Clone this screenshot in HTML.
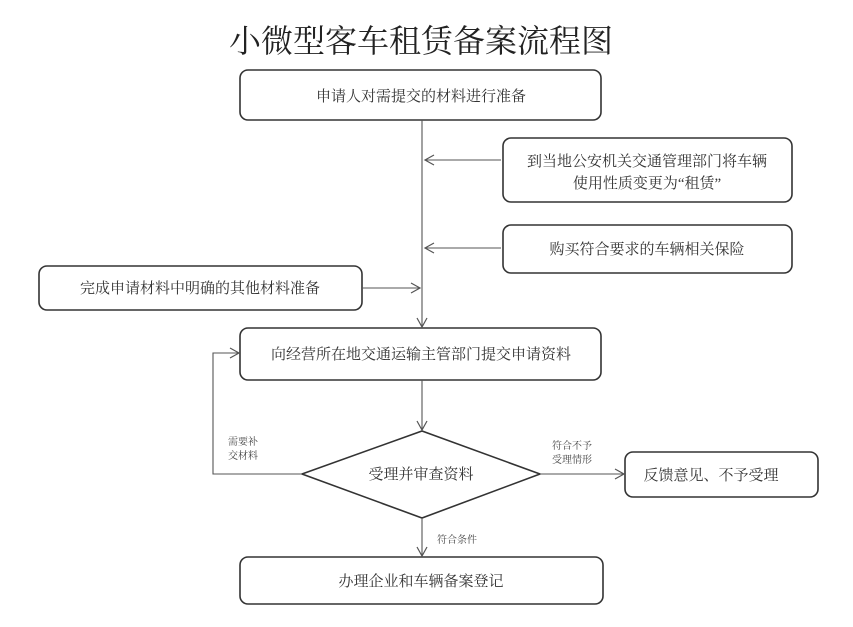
<!DOCTYPE html>
<html><head><meta charset="utf-8"><style>
body{margin:0;background:#fff;}
svg{display:block;font-family:"Liberation Serif","Noto Serif CJK SC",serif;}
</style></head><body>
<svg width="853" height="627" viewBox="0 0 853 627" xmlns="http://www.w3.org/2000/svg">
<defs><marker id="a" markerWidth="12" markerHeight="12" refX="10" refY="6" orient="auto" markerUnits="userSpaceOnUse"><path d="M1,1 L10,6 L1,11" fill="none" stroke="#555" stroke-width="1.2"/></marker></defs>
<text x="421" y="52" font-size="32" text-anchor="middle" fill="#222">小微型客车租赁备案流程图</text>
<g fill="none" stroke="#333" stroke-width="1.6">
<rect x="240" y="70" width="361" height="50" rx="8"/>
<rect x="503" y="138" width="289" height="64" rx="8"/>
<rect x="503" y="225" width="289" height="48" rx="8"/>
<rect x="39" y="266" width="323" height="44" rx="8"/>
<rect x="240" y="328" width="361" height="52" rx="8"/>
<path d="M302,474 L422,431 L540,474 L422,518 Z"/>
<rect x="625" y="452" width="193" height="45" rx="8"/>
<rect x="240" y="557" width="363" height="47" rx="8"/>
</g>
<g fill="none" stroke="#555" stroke-width="1.1">
<line x1="422" y1="120" x2="422" y2="327" marker-end="url(#a)"/>
<line x1="501" y1="160" x2="425" y2="160" marker-end="url(#a)"/>
<line x1="501" y1="248" x2="425" y2="248" marker-end="url(#a)"/>
<line x1="362" y1="288" x2="420" y2="288" marker-end="url(#a)"/>
<line x1="422" y1="380" x2="422" y2="430" marker-end="url(#a)"/>
<polyline points="302,474 213,474 213,353 239,353" marker-end="url(#a)"/>
<line x1="540" y1="474" x2="624" y2="474" marker-end="url(#a)"/>
<line x1="422" y1="518" x2="422" y2="556" marker-end="url(#a)"/>
</g>
<g fill="#333" font-size="15" text-anchor="middle">
<text x="421" y="101">申请人对需提交的材料进行准备</text>
<text x="647" y="166">到当地公安机关交通管理部门将车辆</text>
<text x="647" y="188">使用性质变更为“租赁”</text>
<text x="647" y="254">购买符合要求的车辆相关保险</text>
<text x="200" y="293">完成申请材料中明确的其他材料准备</text>
<text x="421" y="359">向经营所在地交通运输主管部门提交申请资料</text>
<text x="421" y="479">受理并审查资料</text>
<text x="711" y="480">反馈意见、不予受理</text>
<text x="421" y="586">办理企业和车辆备案登记</text>
</g>
<g fill="#444" font-size="10">
<text x="228" y="445">需要补</text>
<text x="228" y="459">交材料</text>
<text x="552" y="449">符合不予</text>
<text x="552" y="463">受理情形</text>
<text x="437" y="543">符合条件</text>
</g>
</svg>
</body></html>
